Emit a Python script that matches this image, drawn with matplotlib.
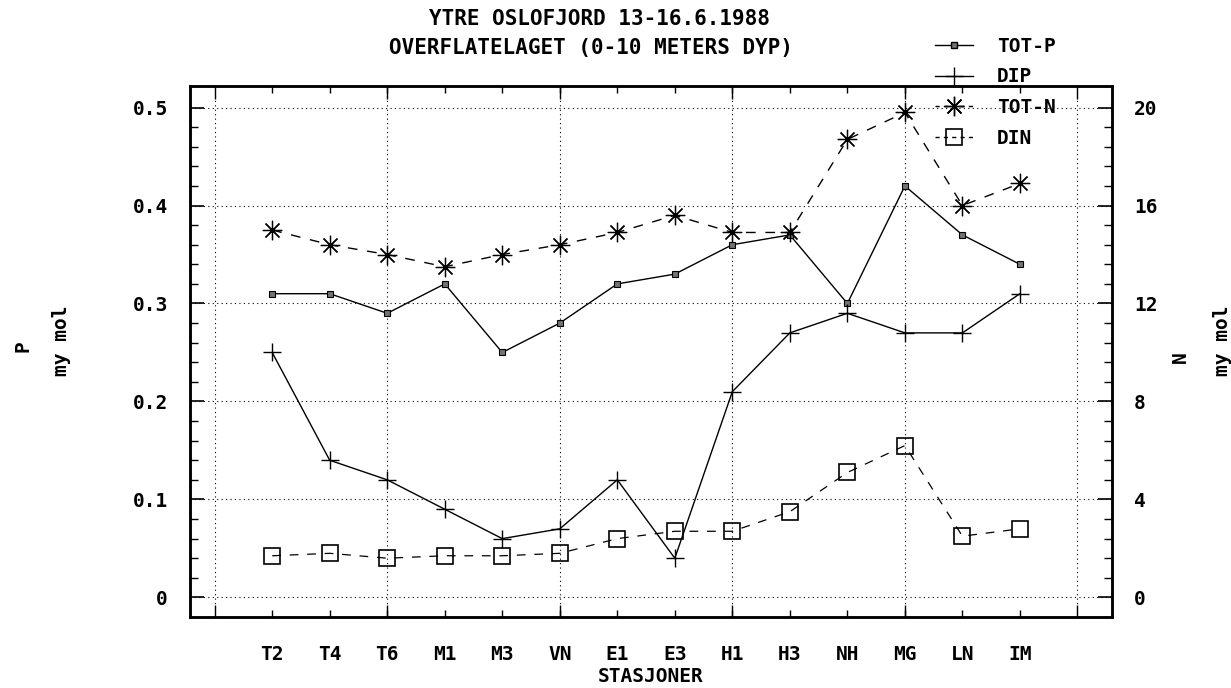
import matplotlib
matplotlib.use("Agg")
import matplotlib.pyplot as plt
from matplotlib.lines import Line2D
import numpy as np

stations = ["T2", "T4", "T6", "M1", "M3", "VN", "E1", "E3", "H1", "H3", "NH", "MG", "LN", "IM"]
tot_p = [0.31, 0.31, 0.29, 0.32, 0.25, 0.28, 0.32, 0.33, 0.36, 0.37, 0.30, 0.42, 0.37, 0.34]
dip = [0.25, 0.14, 0.12, 0.09, 0.06, 0.07, 0.12, 0.04, 0.21, 0.27, 0.29, 0.27, 0.27, 0.31]
tot_n = [15.0, 14.4, 14.0, 13.5, 14.0, 14.4, 14.9, 15.6, 14.9, 14.9, 18.7, 19.8, 16.0, 16.9]
din = [1.7, 1.8, 1.6, 1.7, 1.7, 1.8, 2.4, 2.7, 2.7, 3.5, 5.1, 6.2, 2.5, 2.8]

left_ticks = [0, 0.1, 0.2, 0.3, 0.4, 0.5]
left_labels = ["0", "0.1", "0.2", "0.3", "0.4", "0.5"]
right_ticks = [0, 4, 8, 12, 16, 20]
right_labels = ["0", "4", "8", "12", "16", "20"]

FONT = "DejaVu Sans Mono"
plt.rcParams['font.family'] = [FONT]
plt.rcParams['font.weight'] = 'bold'
plt.rcParams['axes.labelweight'] = 'bold'

fig = plt.figure(figsize=(12.31, 6.88), dpi=100)
ax = fig.add_axes([0.1543, 0.1032, 0.749, 0.7718])
ax2 = ax.twinx()

x = np.arange(len(stations))
ax.set_xlim(-1.43, 14.6)
ax.set_ylim(-0.02, 0.522)
ax2.set_ylim(-0.8, 20.88)

# grid
major_x = [-1, 2, 5, 8, 11, 14]
for gx in major_x:
    ax.axvline(gx, color='k', lw=0.8, ls=(0, (1, 3)), zorder=0)
for gy in left_ticks:
    ax.axhline(gy, color='k', lw=0.8, ls=(0, (1, 3)), zorder=0)

ax.plot(x, tot_p, color='k', lw=1.0, marker='s', ms=4, mfc='0.45', mec='k', mew=0.8)
ax.plot(x, dip, color='k', lw=1.0, marker='+', ms=13, mew=1.0)
ax2.plot(x, tot_n, color='k', lw=1.0, ls=(0, (7, 7)), marker=(8, 2, 0), ms=14, mew=0.9)
ax2.plot(x, din, color='k', lw=0.9, ls=(0, (7, 7)), marker='s', ms=11, mfc='none', mec='k', mew=1.2)

# x ticks
ax.xaxis.remove_overlapping_locs = False
ax.set_xticks(major_x, labels=[""] * len(major_x))
ax.set_xticks(x, labels=stations, minor=True)
ax.tick_params(axis='x', which='major', direction='in', length=9, width=1, top=True)
ax.tick_params(axis='x', which='minor', direction='in', length=5, width=1, top=True,
               pad=20, labelsize=14)

ax.set_yticks(left_ticks, labels=left_labels)
ax.set_yticks(np.arange(0, 0.52, 0.02), minor=True)
ax.tick_params(axis='y', which='major', direction='in', length=10, width=1.2, labelsize=14, pad=16)
ax.tick_params(axis='y', which='minor', direction='in', length=6, width=1)

ax2.set_yticks(right_ticks, labels=right_labels)
ax2.set_yticks(np.arange(0, 20.8, 0.8), minor=True)
ax2.tick_params(axis='y', which='major', direction='in', length=10, width=1.2, labelsize=14, pad=16)
ax2.tick_params(axis='y', which='minor', direction='in', length=6, width=1)

for a in (ax, ax2):
    for s in a.spines.values():
        s.set_linewidth(1.8)

ax.set_xlabel("STASJONER", fontsize=14, fontweight='bold', labelpad=2)

fig.text(0.487, 0.973, "YTRE OSLOFJORD 13-16.6.1988", ha='center', va='center', fontsize=15)
fig.text(0.48, 0.930, "OVERFLATELAGET (0-10 METERS DYP)", ha='center', va='center', fontsize=15)

fig.text(0.019, 0.497, "P", rotation=90, ha='center', va='center', fontsize=14)
fig.text(0.050, 0.505, "my mol", rotation=90, ha='center', va='center', fontsize=14)
fig.text(0.959, 0.481, "N", rotation=90, ha='center', va='center', fontsize=14)
fig.text(0.993, 0.505, "my mol", rotation=90, ha='center', va='center', fontsize=14)

handles = [
    Line2D([], [], color='k', lw=1.0, marker='s', ms=4, mfc='0.45', mec='k'),
    Line2D([], [], color='k', lw=1.0, marker='+', ms=13),
    Line2D([], [], color='k', lw=1.0, ls=(0, (3, 3)), marker=(8, 2, 0), ms=14),
    Line2D([], [], color='k', lw=1.0, ls=(0, (3, 3)), marker='s', ms=11, mfc='none', mew=1.2),
]
leg = fig.legend(handles, ["TOT-P", "DIP", "TOT-N", "DIN"], loc='upper left',
                 bbox_to_anchor=(0.745, 0.972), frameon=False, fontsize=14,
                 handlelength=2.0, labelspacing=0.6, handletextpad=1.2, numpoints=1)

fig.savefig("out.png", dpi=100)
